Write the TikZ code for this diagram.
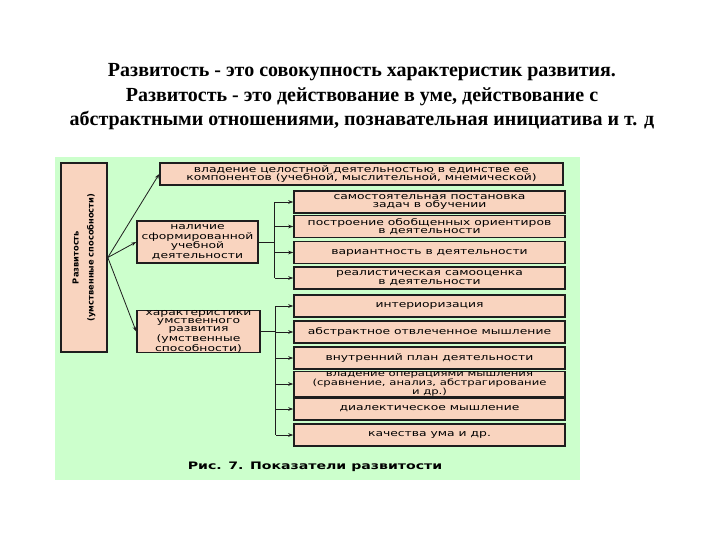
\documentclass[tikz,border=0pt]{standalone}
\usepackage{fontspec}
\setmainfont{Liberation Serif}
\newfontfamily\boxfont[FakeStretch=1.37]{DejaVu Sans}
\newfontfamily\sidefont{DejaVu Sans}
\usepackage{xcolor}
\definecolor{PanelGreen}{HTML}{CCFFCC}
\definecolor{BoxPeach}{HTML}{F9D4BF}
\definecolor{BoxLine}{HTML}{1E1E1E}
\usepackage{tikz}
\usetikzlibrary{arrows.meta, positioning}

\begin{document}
\begin{tikzpicture}[x=1pt,y=-1pt,
  box/.style={draw=BoxLine, line width=1.6pt, fill=BoxPeach, inner sep=0pt, align=center,
    font=\boxfont\fontsize{9}{8.5}\selectfont},
  rbox/.style={box, minimum width=271pt, minimum height=22pt},
  tight/.style={font=\boxfont\fontsize{8.5}{6.8}\selectfont},
  arr/.style={draw=BoxLine, line width=0.8pt, -{Stealth[length=5pt,width=3.6pt]}},
  brk/.style={draw=BoxLine, line width=0.8pt}]
  \useasboundingbox (0,0) rectangle (720,540);
  \fill[white] (0,0) rectangle (720,540);
  \node[align=center, font=\bfseries\fontsize{20}{24.5}\selectfont] (title) at (362,97)
    {Развитость - это совокупность характеристик развития.\\
     Развитость - это действование в уме, действование с\\
     абстрактными отношениями, познавательная инициатива и т. д};
  \fill[PanelGreen] (55,157) rectangle (580,480);
  % left column
  \node[box, minimum width=46pt, minimum height=189pt] (razv) at (84,257.5) {};
  \node[rotate=90, align=center, font=\sidefont\bfseries\fontsize{8.3}{15}\selectfont] (razvtxt) at (razv.center)
    {Развитость\\(умственные способности)};
  \node[box, minimum width=403pt, minimum height=22pt] (vlad) at (361.5,174)
    {владение целостной деятельностью в единстве ее\\компонентов (учебной, мыслительной, мнемической)};
  \node[box, minimum width=121pt, minimum height=42pt, font=\boxfont\fontsize{9}{9.5}\selectfont] (nal) at (197.5,242)
    {наличие\\сформированной\\учебной\\деятельности};
  \node[box, minimum width=123pt, minimum height=41pt, font=\boxfont\fontsize{9}{8}\selectfont] (har) at (198.5,331.5)
    {характеристики\\умственного\\развития\\(умственные\\способности)};
  \draw[arr] (razv.east) -- (vlad.west);
  \draw[arr] (razv.east) -- (nal.west);
  \draw[arr] (razv.east) -- (har.west);
  % right column
  \foreach \i/\yy/\st/\txt in {
    1/202/rbox/{самостоятельная постановка\\задач в обучении},
    2/226.5/rbox/{построение обобщенных ориентиров\\в деятельности},
    3/252.5/rbox/{вариантность в деятельности},
    4/278/rbox/{реалистическая самооценка\\в деятельности},
    5/306/rbox/{интериоризация},
    6/332/rbox/{абстрактное отвлеченное мышление},
    7/358/rbox/{внутренний план деятельности},
    8/384/tight/{владение операциями мышления\\(сравнение, анализ, абстрагирование\\и др.)},
    9/409/rbox/{диалектическое мышление},
    10/435/rbox/{качества ума и др.}}
    \node[rbox, \st] (r\i) at (429.5,\yy) {\txt};
  % brackets
  \draw[brk] (nal.east) -- ++(16,0) coordinate (b1);
  \draw[brk] (b1 |- r1.west) -- (b1 |- r4.west);
  \foreach \i in {1,...,4} \draw[arr] (b1 |- r\i.west) -- (r\i.west);
  \draw[brk] (har.east) -- ++(15,0) coordinate (b2);
  \draw[brk] (b2 |- r5.west) -- (b2 |- r10.west);
  \foreach \i in {5,...,10} \draw[arr] (b2 |- r\i.west) -- (r\i.west);
  \node[font=\boxfont\bfseries\fontsize{10.3}{12}\selectfont] (cap) at (315,467) {Рис. 7. Показатели развитости};
\end{tikzpicture}
\end{document}
